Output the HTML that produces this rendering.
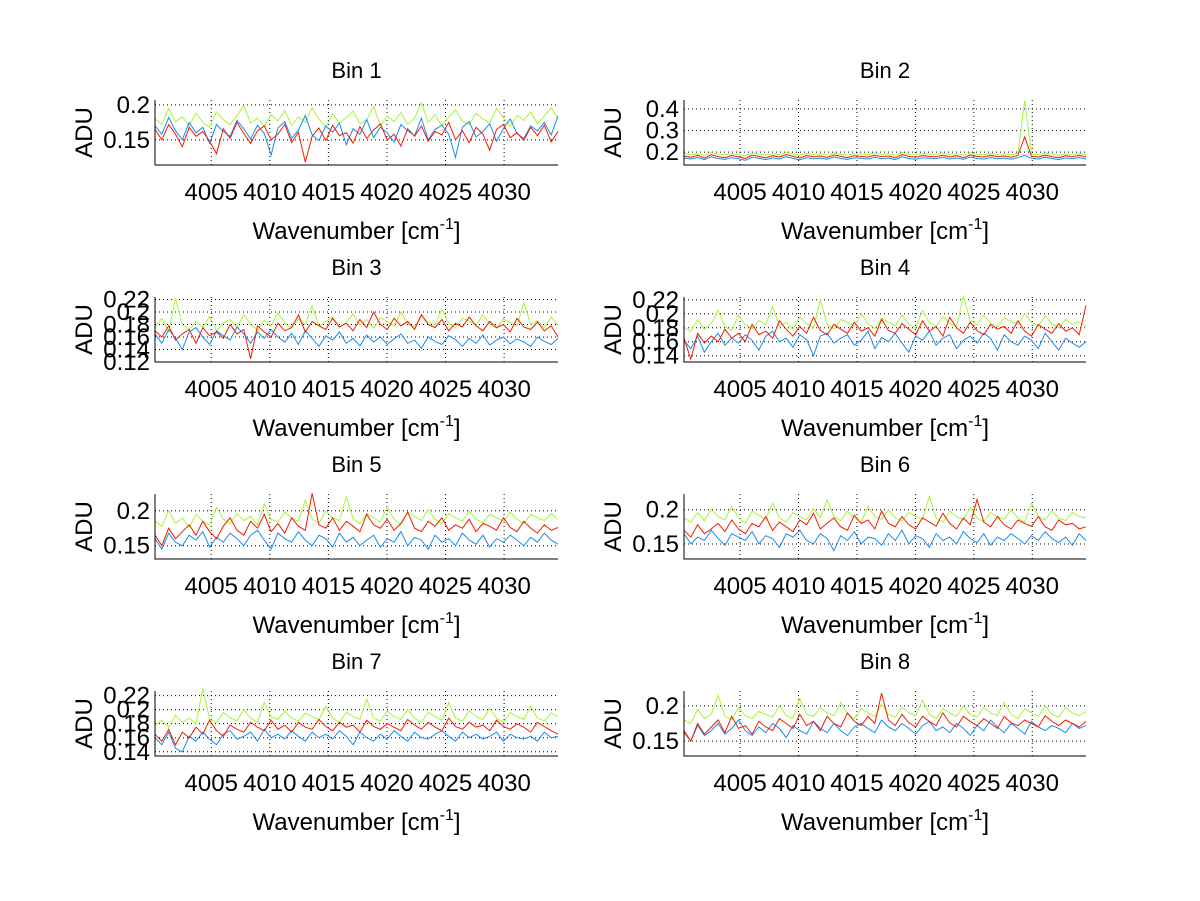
<!DOCTYPE html>
<html><head><meta charset="utf-8"><style>
html,body{margin:0;padding:0;background:#fff;}
svg{display:block;font-family:"Liberation Sans",Arial,sans-serif;}
</style></head><body>
<svg id="fig" width="1200" height="901" viewBox="0 0 1200 901" xmlns="http://www.w3.org/2000/svg"></svg>
<script>
// Wavenumber axis
const wnStart = 4000.2, wnEnd = 4034.6;
const xTicks = [4005, 4010, 4015, 4020, 4025, 4030];
// Series values in milli-ADU (value/1000 = ADU)
const bin1Green=[180,172,195,176,183,170,188,175,168,190,179,172,185,199,174,181,169,186,177,192,171,183,175,196,180,168,187,174,182,191,173,179,198,170,184,176,189,172,181,203,175,186,170,183,193,177,172,188,180,174,195,182,169,185,178,190,173,184,196,181];
const bin1Blue=[170,158,182,163,150,175,160,168,145,172,162,155,178,166,151,171,159,128,167,176,152,164,185,157,149,170,161,174,143,166,158,179,153,168,160,147,172,163,156,181,150,165,171,158,125,168,176,154,162,173,148,166,180,159,152,170,163,175,157,184];
const bin1Red=[165,150,172,158,140,168,155,162,148,130,166,152,175,159,145,163,170,150,158,172,146,161,118,155,167,149,171,156,160,145,169,152,164,173,150,158,141,166,155,170,148,162,157,175,150,163,146,168,158,135,165,172,153,160,149,168,156,171,147,162];
const bin2Green=[195,188,192,185,198,190,187,194,189,183,196,191,186,193,188,199,190,185,194,189,192,187,197,190,186,193,191,188,196,189,192,185,198,190,187,194,191,189,196,188,193,186,197,190,188,195,189,192,187,194,440,191,188,196,190,185,193,189,195,188];
const bin2Blue=[172,168,175,165,178,170,166,174,169,162,176,171,165,173,168,179,170,164,174,169,172,167,177,170,166,173,171,168,176,169,172,165,178,170,167,174,171,169,176,168,173,166,177,170,168,175,169,172,167,174,185,171,168,176,170,165,173,169,175,168];
const bin2Red=[182,176,185,172,188,179,174,184,178,170,186,180,173,183,177,189,180,172,184,178,182,175,187,180,174,183,180,177,186,178,182,173,188,180,176,184,180,178,186,177,183,174,187,180,177,185,178,182,176,184,270,180,177,186,179,173,183,178,185,177];
const bin3Green=[175,190,168,222,180,172,185,176,193,170,182,188,175,196,180,171,187,178,199,182,174,189,180,210,177,185,192,176,183,197,179,188,174,191,185,178,200,181,176,193,184,179,205,182,175,190,186,178,196,181,174,189,183,177,215,180,186,175,192,178];
const bin3Blue=[165,150,172,158,140,168,175,160,148,170,162,155,176,165,150,168,158,172,160,152,166,148,170,158,145,162,155,168,150,158,146,163,152,160,148,157,165,150,155,142,160,153,148,162,156,145,158,150,163,147,155,160,149,157,152,145,160,153,148,158];
const bin3Red=[170,160,178,155,165,172,150,175,162,168,158,180,165,172,125,178,168,160,182,170,175,195,168,185,178,172,190,176,182,170,188,175,200,180,172,190,178,185,172,196,180,175,188,170,182,176,192,178,170,185,175,180,168,190,176,172,184,170,178,160];
const bin4Green=[180,175,192,178,186,205,182,176,198,184,179,190,185,210,182,188,178,195,186,180,220,185,178,192,188,182,200,186,179,194,188,183,198,185,180,205,188,182,196,186,181,225,190,184,198,187,182,194,189,185,200,188,182,197,186,180,192,185,188,182];
const bin4Blue=[162,150,168,145,160,172,155,165,158,170,162,148,168,175,160,165,152,170,163,140,168,172,158,165,170,155,162,175,150,166,160,172,158,145,168,162,175,155,165,170,150,162,168,158,172,165,148,170,160,155,168,162,150,172,160,148,165,158,152,160];
const bin4Red=[165,135,172,158,168,160,178,165,172,160,185,170,175,165,190,178,168,182,172,195,176,170,185,178,172,188,175,180,168,192,176,172,186,178,170,190,175,182,168,195,180,172,188,176,170,185,178,182,172,190,175,168,185,178,172,186,175,180,170,212];
const bin5Green=[185,178,200,182,190,176,195,185,180,205,188,182,196,186,192,180,210,188,184,198,190,185,215,188,182,200,190,186,220,188,182,196,190,184,205,188,180,198,192,186,202,188,182,196,190,185,200,188,183,195,190,185,198,188,182,195,190,186,196,188];
const bin5Blue=[160,145,168,155,150,165,158,170,148,162,155,168,160,150,165,172,158,145,168,160,155,170,158,150,165,160,148,168,155,162,150,158,165,148,160,155,170,150,162,158,145,165,155,160,150,168,158,152,165,148,160,155,165,158,150,162,155,168,158,152];
const bin5Red=[165,150,175,160,170,180,165,185,170,160,178,190,172,165,185,175,195,170,182,168,190,178,172,225,180,175,190,172,185,178,170,195,180,175,188,172,182,198,175,170,185,178,190,172,180,175,188,170,182,178,172,190,176,170,185,175,168,180,172,176];
const bin6Green=[188,182,196,184,200,190,185,205,188,180,198,192,186,210,188,182,196,190,185,202,188,215,190,184,198,188,182,205,190,186,200,188,184,196,190,186,220,188,182,198,190,185,204,188,182,196,190,186,200,188,182,210,190,185,198,188,184,196,190,188];
const bin6Blue=[165,150,160,155,170,158,148,165,160,155,168,150,162,158,145,165,160,170,155,150,165,158,140,162,155,168,150,160,158,148,165,155,170,150,162,158,145,165,155,160,150,168,158,152,165,148,160,155,165,158,150,162,155,168,158,152,160,148,165,155];
const bin6Red=[170,160,178,165,172,180,168,185,172,165,180,175,190,170,182,175,168,185,178,195,172,180,188,175,170,192,180,185,172,198,180,175,190,178,172,188,182,176,195,180,172,188,178,215,182,175,190,178,172,185,180,176,190,175,170,185,178,180,172,175];
const bin7Green=[178,185,175,192,182,188,180,230,186,182,196,188,184,200,188,182,210,190,186,198,188,184,195,190,186,205,188,182,196,190,186,215,188,184,198,190,186,200,188,182,196,190,185,210,188,184,198,190,186,202,188,182,196,190,186,205,188,184,195,190];
const bin7Blue=[160,150,168,145,140,162,155,168,158,150,165,170,158,162,168,155,172,160,165,158,170,162,155,168,160,165,158,170,162,150,168,160,155,165,158,170,162,155,168,160,158,165,170,162,155,168,160,165,158,162,168,155,165,160,158,162,155,168,160,162];
const bin7Red=[165,155,172,150,168,160,175,165,185,170,162,178,172,168,182,175,170,185,172,178,168,182,175,172,186,176,170,182,175,178,168,185,176,172,180,175,170,186,178,172,182,175,170,188,176,172,182,175,178,170,185,176,172,180,175,168,182,176,170,165];
const bin8Green=[180,175,195,182,188,215,185,180,198,186,182,192,188,184,200,186,182,210,188,185,198,190,186,205,188,182,196,190,185,202,188,184,198,190,186,208,188,182,196,190,185,200,188,184,198,190,186,205,188,182,196,190,185,200,188,184,198,190,186,192];
const bin8Blue=[162,150,172,158,165,175,160,168,180,165,158,170,162,175,168,155,172,165,160,178,168,162,175,165,158,170,175,168,162,180,170,165,175,168,160,172,178,165,170,162,175,168,158,172,165,180,170,162,175,168,160,178,170,165,172,168,162,175,168,172];
const bin8Red=[165,150,175,160,170,180,162,185,168,172,160,178,170,165,182,175,168,188,172,178,165,185,175,170,190,178,172,185,175,218,180,172,188,176,170,185,178,172,190,176,170,185,178,172,182,175,168,185,176,172,180,175,170,186,178,172,180,175,170,178];
// y tick labels per panel
const yTicks1=[0.15,0.2], yTicks2=[0.2,0.3,0.4], yTicks3=[0.12,0.14,0.16,0.18,0.2,0.22], yTicks4=[0.14,0.16,0.18,0.2,0.22];
const yTicks5=[0.15,0.2], yTicks6=[0.15,0.2], yTicks7=[0.14,0.16,0.18,0.2,0.22], yTicks8=[0.15,0.2];
const yRange1=[0.114,0.207], yRange2=[0.14,0.442], yRange3=[0.12,0.224], yRange4=[0.131,0.224];
const yRange5=[0.131,0.224], yRange6=[0.128,0.223], yRange7=[0.134,0.2265], yRange8=[0.129,0.221];

const panels=[
 {t:"Bin 1",s:[bin1Green,bin1Blue,bin1Red],yt:yTicks1,yr:yRange1},
 {t:"Bin 2",s:[bin2Green,bin2Blue,bin2Red],yt:yTicks2,yr:yRange2},
 {t:"Bin 3",s:[bin3Green,bin3Blue,bin3Red],yt:yTicks3,yr:yRange3},
 {t:"Bin 4",s:[bin4Green,bin4Blue,bin4Red],yt:yTicks4,yr:yRange4},
 {t:"Bin 5",s:[bin5Green,bin5Blue,bin5Red],yt:yTicks5,yr:yRange5},
 {t:"Bin 6",s:[bin6Green,bin6Blue,bin6Red],yt:yTicks6,yr:yRange6},
 {t:"Bin 7",s:[bin7Green,bin7Blue,bin7Red],yt:yTicks7,yr:yRange7},
 {t:"Bin 8",s:[bin8Green,bin8Blue,bin8Red],yt:yTicks8,yr:yRange8}
];
const colors=["#a6f53a","#1a8cf0","#f01e00"];
const seriesNames=["green","blue","red"];
const NS="http://www.w3.org/2000/svg";
const svg=document.getElementById("fig");
function mk(tag,attrs,parent){const e=document.createElementNS(NS,tag);for(const k in attrs)e.setAttribute(k,attrs[k]);(parent||svg).appendChild(e);return e;}

panels.forEach((p,i)=>{
  const col=i%2,row=Math.floor(i/2);
  const L=col?684:155,R=col?1086:558,T=100+row*197,B=165+row*197;
  const g=mk("g",{});
  
  
  const sx=v=>L+(v-wnStart)/(wnEnd-wnStart)*(R-L);
  const sy=v=>B-(v-p.yr[0])/(p.yr[1]-p.yr[0])*(B-T);
  xTicks.forEach(v=>{const ln=mk("line",{x1:sx(v),x2:sx(v),y1:T,y2:B,stroke:"#000","stroke-width":1,"stroke-dasharray":"1,3"},g);
    });
  p.yt.forEach(v=>{const ln=mk("line",{x1:L,x2:R,y1:sy(v),y2:sy(v),stroke:"#000","stroke-width":1,"stroke-dasharray":"1,3"},g);
    });
  p.s.forEach((arr,k)=>{
    const n=arr.length;
    const pts=arr.map((v,j)=>sx(wnStart+j*(wnEnd-wnStart)/(n-1)).toFixed(1)+","+sy(v/1000).toFixed(1)).join(" ");
    const pl=mk("polyline",{points:pts,fill:"none",stroke:colors[k],"stroke-width":1},g);
    
    
  });
  const ax=mk("path",{d:`M${L},${T}V${B}H${R}`,fill:"none",stroke:"#000","stroke-width":1},g);
  
  xTicks.forEach(v=>{const t=mk("text",{x:sx(v),y:B+35,"text-anchor":"middle","font-size":24},g);t.textContent=String(v);
    });
  p.yt.forEach(v=>{const t=mk("text",{x:L-5,y:sy(v)+8,"text-anchor":"end","font-size":24},g);t.textContent=String(v);
    });
  const cx=(L+R)/2;
  const tt=mk("text",{x:cx,y:T-22,"text-anchor":"middle","font-size":22},g);tt.textContent=p.t;
  
  const xl=mk("text",{x:cx,y:B+74,"text-anchor":"middle","font-size":24},g);
  
  xl.innerHTML='Wavenumber [cm<tspan font-size="16" dy="-10">-1</tspan><tspan dy="10">]</tspan>';
  const yx=L-71,yy=(T+B)/2;
  const yl=mk("text",{x:yx,y:yy+8,"text-anchor":"middle","font-size":24,transform:`rotate(-90 ${yx} ${yy})`},g);yl.textContent="ADU";
  
});
</script>
</body></html>
